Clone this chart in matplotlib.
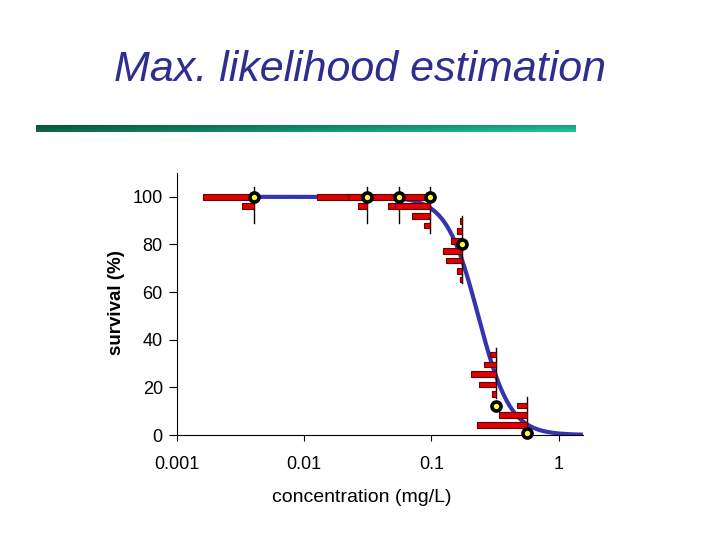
import numpy as np
import matplotlib
matplotlib.use("Agg")
import matplotlib.pyplot as plt

plt.rcParams['font.family'] = ['Liberation Sans', 'DejaVu Sans']

# observed data
conc = [0.00405, 0.031, 0.0557, 0.098, 0.175, 0.32, 0.561]
surv_obs = [100, 100, 100, 100, 80, 12, 1]

# predicted distributions (survival level, relative frequency) per concentration
hist_levels = [
    [100, 96],
    [100, 96],
    [100, 96],
    [100, 96, 92, 88],
    [89.8, 85.6, 81.4, 77.4, 73.3, 69.0, 65.3],
    [33.8, 29.6, 25.6, 21.2, 17.2],
    [12.4, 8.4, 4.3],
]
hist_freq = [
    [0.80, 0.19],
    [0.78, 0.14],
    [0.80, 0.17],
    [0.52, 0.55, 0.29, 0.10],
    [0.04, 0.08, 0.18, 0.30, 0.26, 0.08, 0.04],
    [0.08, 0.18, 0.39, 0.26, 0.05],
    [0.15, 0.43, 0.77],
]
hist_range = [[89, 104], [89, 104], [89, 104], [85, 104], [64, 92], [15.5, 36.5], [3, 16]]

# fitted log-logistic curve
EC50 = 0.234
SLOPE = 3.47

xticks = [0.001, 0.01, 0.1, 1]
xtick_labels = ['0.001', '0.01', '0.1', '1']
yticks = [0, 20, 40, 60, 80, 100]

FREQ_DEC = 0.503   # decades of bar length per unit frequency
BAR_H = 2.4

fig = plt.figure(figsize=(7.2, 5.4), dpi=100)

# title + green gradient rule
fig.text(0.5, 0.870, 'Max. likelihood estimation', ha='center', va='center',
         fontsize=31, style='italic', color='#2e2e90')
gax = fig.add_axes([36 / 720, 1 - 132 / 540, 540 / 720, 7 / 540])
gx = np.linspace(0, 1, 200)
gy = np.linspace(0, 1, 8)[:, None]
c0 = np.array([10, 100, 72]) / 255.
c1 = np.array([30, 190, 150]) / 255.
grad = c0[None, None, :] + (c1 - c0)[None, None, :] * gx[None, :, None]
grad = grad * (0.85 + 0.2 * gy[:, :, None])
gax.imshow(np.clip(grad, 0, 1), aspect='auto', extent=[0, 1, 0, 1])
gax.axis('off')

ax = fig.add_axes([176.7 / 720, 1 - 435 / 540, (583 - 176.7) / 720, (435 - 173) / 540])
ax.set_xscale('log')
ax.set_xlim(0.001, 1.556)
ax.set_ylim(0, 110)

xc = np.logspace(np.log10(0.0017), np.log10(1.6), 400)
yc = 100 / (1 + (xc / EC50) ** SLOPE)
ax.plot(xc, yc, color='#3535b0', lw=3, zorder=2)

for i in range(len(conc)):
    x = conc[i]
    ax.plot([x, x], hist_range[i], color='black', lw=1, zorder=3)
    for lev, f in zip(hist_levels[i], hist_freq[i]):
        left = x * 10 ** (-f * FREQ_DEC)
        ax.barh(lev, x - left, left=left, height=BAR_H, color='#e00000',
                edgecolor='#600000', linewidth=0.8, zorder=4)

ax.plot(conc, surv_obs, 'o', ms=6.5, mfc='#ffff30', mec='black', mew=2.6,
        zorder=6, clip_on=False)

ax.spines['top'].set_visible(False)
ax.spines['right'].set_visible(False)
ax.set_xticks(xticks)
ax.set_xticklabels(xtick_labels)
ax.minorticks_off()
ax.set_yticks(yticks)
ax.tick_params(axis='x', direction='out', length=4, pad=11, labelsize=13)
ax.tick_params(axis='y', direction='out', length=6, pad=4, labelsize=13)

fig.text(362 / 720, 1 - 497 / 540, 'concentration (mg/L)', ha='center', va='center', fontsize=14)
fig.text(116 / 720, 1 - 303 / 540, 'survival (%)', ha='center', va='center',
         rotation=90, fontsize=13.5, fontweight='bold')

fig.savefig('out.png', dpi=100)
